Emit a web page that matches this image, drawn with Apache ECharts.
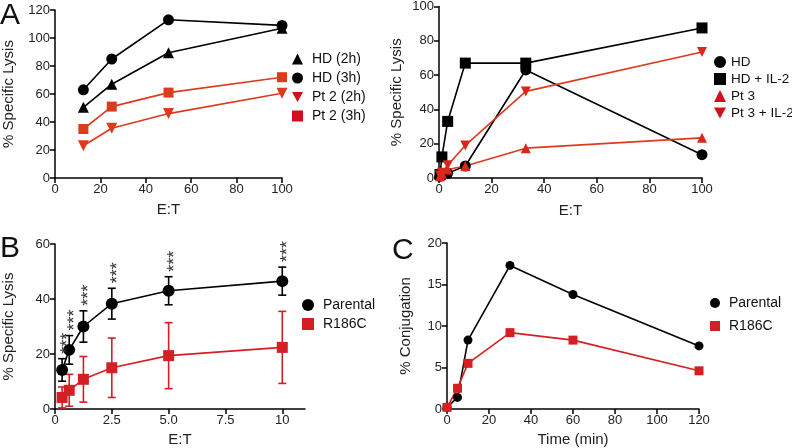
<!DOCTYPE html>
<html><head><meta charset="utf-8">
<script src="https://cdn.jsdelivr.net/npm/echarts@6/dist/echarts.min.js"></script>
<style>html,body{margin:0;padding:0;background:#fff}#c{width:792px;height:448px}</style>
</head><body><div id="c"></div>
<script>
// Panel A (left)
const aLeftX = [12.5, 25, 50, 100];
const hd2h = [50.5, 67, 89.5, 107];
const hd3h = [63, 85, 113, 109];
const pt2h2 = [23, 35.5, 46, 60.5];
const pt2h3 = [35, 51, 61, 72];
// Panel A (right)
const aRightX = [0.37, 1.1, 3.3, 10, 33, 100];
const hdR = [1, 1.5, 2.7, 7, 63, 13.6];
const hdIL2 = [2, 12.3, 33, 67, 67, 87.5];
const pt3 = [1, 2.5, 5, 7, 17.4, 23.4];
const pt3IL2 = [1.5, 3, 7.5, 19, 50.5, 73.5];
// Panel B
const bX = [0.3125, 0.625, 1.25, 2.5, 5, 10];
const bParental = [14.2, 21.5, 30, 38.3, 43, 46.5];
const bParentalErr = [4.1, 5.2, 5.7, 5.6, 5.1, 5.1];
const bR186C = [4.2, 6.8, 10.8, 15, 19.4, 22.4];
const bR186CErr = [3.8, 5.8, 8.3, 10.8, 12, 13.1];
const bStars = ['***', '***', '***', '***', '***', '***'];
const bTicks = [0, 2.5, 5, 7.5, 10];
// Panel C
const cX = [0, 5, 10, 30, 60, 120];
const cParental = [0.2, 1.4, 8.3, 17.3, 13.8, 7.6];
const cR186C = [0.2, 2.5, 5.5, 9.2, 8.3, 4.6];

const FONT = 'Liberation Sans, Arial, sans-serif';
const BLACK = '#000';
const RED_A = '#dc3b1e';
const RED_LEG = '#d0101c';
const RED_AM = '#d8281c';
const RED_B = '#d41f24';
const DOWN = 'path://M0,0L10,0L5,9Z';
const zip = (xs, ys) => xs.map((x, i) => [x, ys[i]]);

function axisCommon(extra) {
  return Object.assign({
    splitLine: {show: false},
    axisLine: {onZero: false, lineStyle: {color: BLACK, width: 1.5}},
    axisTick: {length: 5, lineStyle: {color: BLACK, width: 1.5}},
    axisLabel: {color: '#222', fontSize: 13, fontFamily: FONT, margin: 5},
    nameLocation: 'middle',
    nameTextStyle: {color: '#222', fontSize: 15, fontFamily: FONT}
  }, extra);
}

function lineSeries(name, xi, data, color, symbol, size, lineColor) {
  return {
    type: 'line', name, xAxisIndex: xi, yAxisIndex: xi, data,
    symbol, symbolSize: size, showSymbol: true,
    itemStyle: {color, opacity: 1},
    lineStyle: {color: lineColor || color, width: 1.6},
    z: 3, animation: false
  };
}

function errSeries(xi, xs, ys, es, color) {
  return {
    type: 'custom', xAxisIndex: xi, yAxisIndex: xi, z: 2, animation: false,
    data: xs.map((x, i) => [x, ys[i], es[i]]),
    encode: {x: 0, y: 1},
    renderItem: function (params, api) {
      const x = api.value(0), y = api.value(1), e = api.value(2);
      const t = api.coord([x, y + e]);
      const b = api.coord([x, Math.max(0, y - e)]);
      const w = 4;
      const st = {stroke: color, lineWidth: 1.6};
      return {type: 'group', children: [
        {type: 'line', shape: {x1: t[0], y1: t[1], x2: b[0], y2: b[1]}, style: st},
        {type: 'line', shape: {x1: t[0] - w, y1: t[1], x2: t[0] + w, y2: t[1]}, style: st},
        {type: 'line', shape: {x1: b[0] - w, y1: b[1], x2: b[0] + w, y2: b[1]}, style: st}
      ]};
    }
  };
}

function starSeries(xi, xs, ys, es, labels) {
  return {
    type: 'custom', xAxisIndex: xi, yAxisIndex: xi, z: 4, animation: false,
    data: xs.map((x, i) => [x, ys[i] + es[i]]),
    encode: {x: 0, y: 1},
    renderItem: function (params, api) {
      const p = api.coord([api.value(0), api.value(1)]);
      return {type: 'text', x: p[0] + 6, y: p[1] - 5, rotation: Math.PI / 2,
        style: {text: labels[params.dataIndex], fill: '#333', fontSize: 18, fontFamily: FONT,
          align: 'left', verticalAlign: 'middle'}};
    }
  };
}

function legendCommon(extra) {
  return Object.assign({
    orient: 'vertical', itemWidth: 11, itemHeight: 11,
    textStyle: {color: '#111', fontSize: 14, fontFamily: FONT, padding: [0, 0, 0, 4]},
    selectedMode: false, padding: 0
  }, extra);
}

const chart = echarts.init(document.getElementById('c'), null, {renderer: 'canvas'});
const option = {
  animation: false,
  textStyle: {fontFamily: FONT},
  grid: [
    {left: 53, top: 10, width: 229, height: 168},
    {left: 439, top: 4, width: 263, height: 174},
    {left: 53, top: 244, width: 252, height: 168},
    {left: 447, top: 243, width: 252, height: 168}
  ],
  xAxis: [
    axisCommon({gridIndex: 0, type: 'value', min: 0, max: 100, interval: 20, name: 'E:T', nameGap: 24}),
    axisCommon({gridIndex: 1, type: 'value', min: 0, max: 100, interval: 20, name: 'E:T', nameGap: 25}),
    axisCommon({gridIndex: 2, type: 'value', min: 0, max: 11, name: 'E:T', nameGap: 23,
      axisTick: {length: 5, lineStyle: {color: BLACK, width: 1.5}, customValues: bTicks},
      axisLabel: {color: '#222', fontSize: 13, fontFamily: FONT, margin: 5, customValues: bTicks,
        formatter: v => (v === 0 || v === 10) ? String(v) : v.toFixed(1)}}),
    axisCommon({gridIndex: 3, type: 'value', min: 0, max: 120, interval: 20, name: 'Time (min)', nameGap: 23})
  ],
  yAxis: [
    axisCommon({gridIndex: 0, type: 'value', min: 0, max: 120, interval: 20, name: '% Specific Lysis', nameGap: 39}),
    axisCommon({gridIndex: 1, type: 'value', min: 0, max: 100, interval: 20, name: '% Specific Lysis', nameGap: 35}),
    axisCommon({gridIndex: 2, type: 'value', min: 0, max: 60, interval: 20, name: '% Specific Lysis', nameGap: 39}),
    axisCommon({gridIndex: 3, type: 'value', min: 0, max: 20, interval: 5, name: '% Conjugation', nameGap: 34})
  ],
  legend: [
    legendCommon({left: 292, top: 52, itemGap: 5, data: [
      {name: 'HD (2h)', icon: 'triangle'}, {name: 'HD (3h)', icon: 'circle'},
      {name: 'Pt 2 (2h)', icon: DOWN, itemStyle: {color: RED_LEG}},
      {name: 'Pt 2 (3h)', icon: 'rect', itemStyle: {color: RED_LEG}}]}),
    legendCommon({left: 714, top: 55, itemGap: 3, itemWidth: 12, itemHeight: 12,
      textStyle: {color: '#111', fontSize: 13.5, fontFamily: FONT, padding: [0, 0, 0, 0]}, data: [
      {name: 'HD', icon: 'circle'}, {name: 'HD + IL-2', icon: 'rect'},
      {name: 'Pt 3', icon: 'triangle', itemStyle: {color: RED_LEG}},
      {name: 'Pt 3 + IL-2', icon: DOWN, itemStyle: {color: RED_LEG}}]}),
    legendCommon({left: 302, top: 298, itemGap: 5, itemWidth: 12, itemHeight: 12, data: [
      {name: 'Parental', icon: 'circle'}, {name: 'R186C', icon: 'rect'}]}),
    legendCommon({left: 710, top: 296, itemGap: 9, itemWidth: 10, itemHeight: 10, data: [
      {name: 'Parental ', icon: 'circle'}, {name: 'R186C ', icon: 'rect'}]})
  ],
  graphic: [
    {type: 'text', left: 0, top: 1, style: {text: 'A', fontSize: 30, fontFamily: FONT, fill: '#111'}},
    {type: 'text', left: 0, top: 234, style: {text: 'B', fontSize: 30, fontFamily: FONT, fill: '#111'}},
    {type: 'text', left: 392, top: 236, style: {text: 'C', fontSize: 30, fontFamily: FONT, fill: '#111'}}
  ],
  series: [
    lineSeries('HD (2h)', 0, zip(aLeftX, hd2h), BLACK, 'triangle', 11),
    lineSeries('HD (3h)', 0, zip(aLeftX, hd3h), BLACK, 'circle', 11),
    lineSeries('Pt 2 (2h)', 0, zip(aLeftX, pt2h2), RED_A, DOWN, 11),
    lineSeries('Pt 2 (3h)', 0, zip(aLeftX, pt2h3), RED_A, 'rect', 10),

    lineSeries('HD', 1, zip(aRightX, hdR), BLACK, 'circle', 11),
    lineSeries('HD + IL-2', 1, zip(aRightX, hdIL2), BLACK, 'rect', 11),
    lineSeries('Pt 3', 1, zip(aRightX, pt3), RED_AM, 'triangle', 10, RED_A),
    lineSeries('Pt 3 + IL-2', 1, zip(aRightX, pt3IL2), RED_AM, DOWN, 10, RED_A),

    errSeries(2, bX, bParental, bParentalErr, BLACK),
    errSeries(2, bX, bR186C, bR186CErr, RED_B),
    lineSeries('Parental', 2, zip(bX, bParental), BLACK, 'circle', 12),
    lineSeries('R186C', 2, zip(bX, bR186C), RED_B, 'rect', 11),
    starSeries(2, bX, bParental, bParentalErr, bStars),

    lineSeries('Parental ', 3, zip(cX, cParental), BLACK, 'circle', 9),
    lineSeries('R186C ', 3, zip(cX, cR186C), RED_B, 'rect', 9)
  ]
};
chart.setOption(option);
</script>
</body></html>
